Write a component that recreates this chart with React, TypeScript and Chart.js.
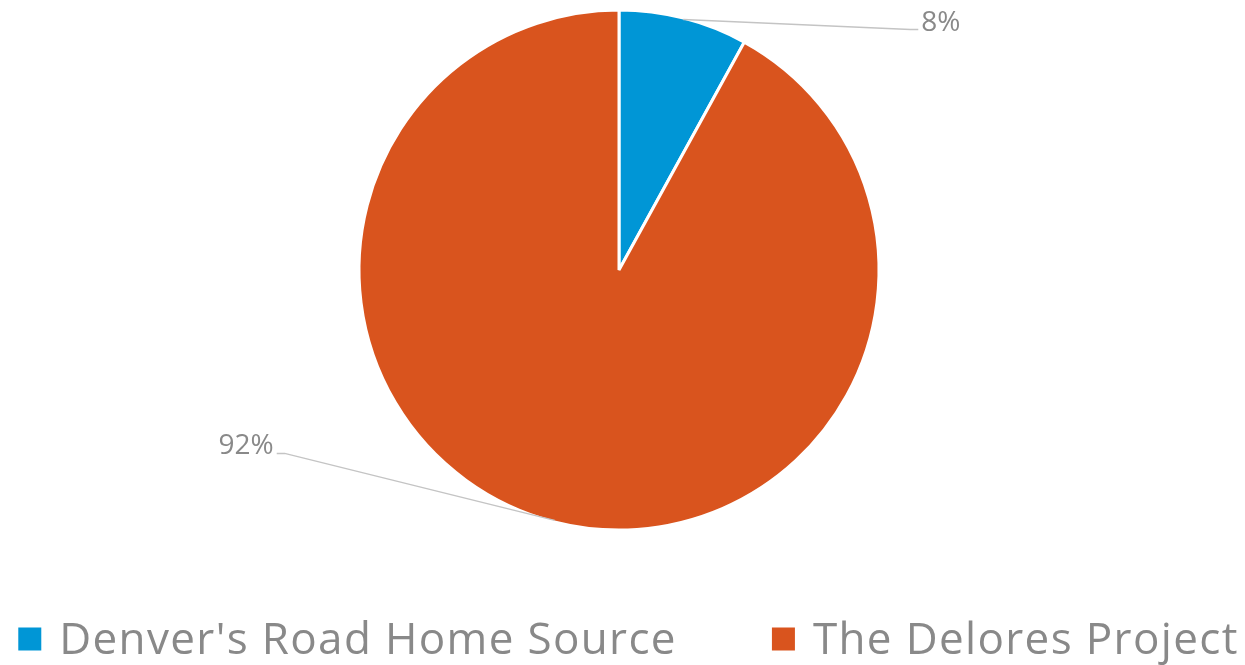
import React, { useEffect, useRef } from "react";
import { Chart, registerables } from "chart.js";

Chart.register(...registerables);

const categories: string[] = ["Denver's Road Home Source", "The Delores Project"];
const values: number[] = [8, 92];
const colors: string[] = ["#0096D6", "#D9541E"];

// leader-line elbow offsets relative to each slice's outer mid point (style only)
const labelElbows: { dx: number; dy: number; side: number }[] = [
  { dx: 227, dy: 10, side: 1 },
  { dx: -270, dy: -67, side: -1 },
];

const TEXT_GRAY = "#898989";
const FONT = "'Open Sans', 'Noto Sans', sans-serif";

const pieLabelsPlugin = {
  id: "pieLabels",
  afterDatasetsDraw(chart: any) {
    const ctx = chart.ctx;
    const meta = chart.getDatasetMeta(0);
    const data = chart.data.datasets[0].data as number[];
    const total = data.reduce((a, b) => a + b, 0);
    ctx.save();
    meta.data.forEach((arc: any, i: number) => {
      const p = arc.getProps(["x", "y", "startAngle", "endAngle", "outerRadius"], true);
      const mid = (p.startAngle + p.endAngle) / 2;
      const r = p.outerRadius - 1.5;
      const sx = p.x + Math.cos(mid) * r;
      const sy = p.y + Math.sin(mid) * r;
      const e = labelElbows[i];
      const ex = sx + e.dx;
      const ey = sy + e.dy;
      const tx = ex + e.side * 8;
      ctx.beginPath();
      ctx.strokeStyle = "#C4C4C4";
      ctx.lineWidth = 1.5;
      ctx.moveTo(sx, sy);
      ctx.lineTo(ex, ey);
      ctx.lineTo(tx, ey);
      ctx.stroke();
      const txt = Math.round((data[i] / total) * 100) + "%";
      ctx.fillStyle = TEXT_GRAY;
      ctx.font = `28px ${FONT}`;
      ctx.textBaseline = "alphabetic";
      ctx.textAlign = e.side > 0 ? "left" : "right";
      ctx.fillText(txt, tx + e.side * 3, ey + 1);
    });
    ctx.restore();
  },
};

const legendPlugin = {
  id: "customLegend",
  afterDraw(chart: any) {
    const ctx = chart.ctx;
    const box = 23;
    const boxGap = 18;
    const itemGap = 95;
    ctx.save();
    ctx.font = `44px ${FONT}`;
    try {
      (ctx as any).letterSpacing = "1.35px";
    } catch (e) {}
    const widths = categories.map((c) => ctx.measureText(c).width);
    const total =
      widths.reduce((a, w) => a + box + boxGap + w, 0) + itemGap * (categories.length - 1);
    let x = (chart.width - total) / 2 + 6;
    const cy = chart.height - 26;
    categories.forEach((c, i) => {
      ctx.fillStyle = colors[i];
      ctx.fillRect(x, cy - box / 2, box, box);
      x += box + boxGap;
      ctx.fillStyle = TEXT_GRAY;
      ctx.textBaseline = "middle";
      ctx.textAlign = "left";
      ctx.fillText(c, x, cy + 2);
      x += widths[i] + itemGap;
    });
    ctx.restore();
  },
};

export default function App() {
  const ref = useRef<HTMLCanvasElement | null>(null);
  useEffect(() => {
    if (!ref.current) return;
    const chart = new Chart(ref.current, {
      type: "pie",
      data: {
        labels: categories,
        datasets: [
          {
            data: values,
            backgroundColor: colors,
            borderColor: "#FFFFFF",
            borderWidth: 3,
            hoverOffset: 0,
            radius: 260,
          } as any,
        ],
      },
      options: {
        responsive: false,
        animation: false,
        layout: { padding: { top: 12, bottom: 137, left: 0, right: 7 } },
        plugins: {
          legend: { display: false },
          tooltip: { enabled: false },
        },
      },
      plugins: [pieLabelsPlugin, legendPlugin],
    });
    return () => chart.destroy();
  }, []);
  return (
    <div style={{ position: "absolute", left: 0, top: 0, width: 1245, height: 665, background: "#fff" }}>
      <canvas ref={ref} width={1245} height={665} />
    </div>
  );
}
